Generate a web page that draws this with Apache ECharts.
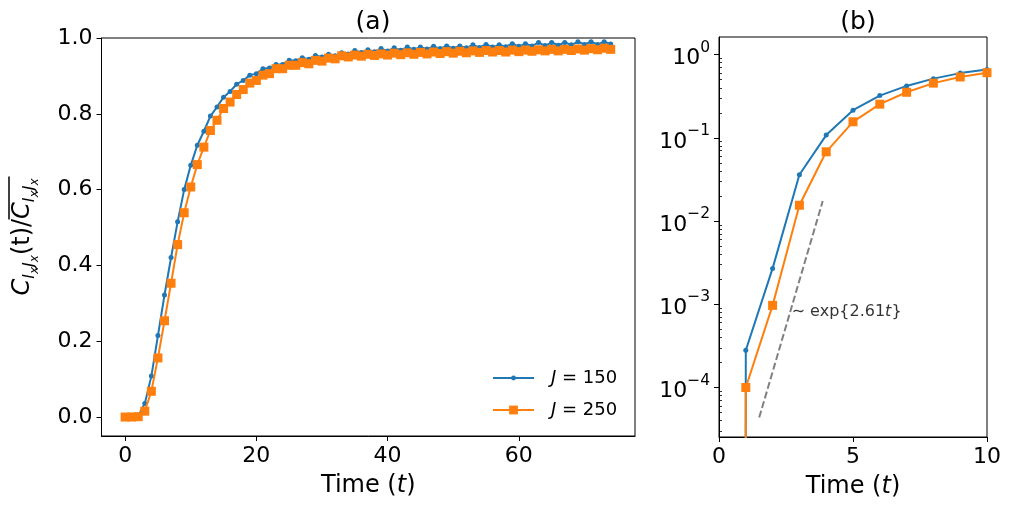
<!DOCTYPE html>
<html>
<head>
<meta charset="utf-8">
<script src="https://cdn.jsdelivr.net/npm/echarts@6/dist/echarts.min.js"></script>
<style>html,body{margin:0;padding:0;background:#fff}#c{width:1011px;height:511px}</style>
</head>
<body>
<div id="c"></div>
<script>
// ---- data ----
const timeT = [0,1,2,3,4,5,6,7,8,9,10,11,12,13,14,15,16,17,18,19,20,21,22,23,24,25,26,27,28,29,30,31,32,33,34,35,36,37,38,39,40,41,42,43,44,45,46,47,48,49,50,51,52,53,54,55,56,57,58,59,60,61,62,63,64,65,66,67,68,69,70,71,72,73,74];
const j150 = [0,0.00028,0.0027,0.036,0.108,0.215,0.322,0.421,0.515,0.600,0.664,0.717,0.754,0.794,0.818,0.844,0.859,0.878,0.888,0.902,0.906,0.919,0.921,0.930,0.930,0.941,0.940,0.948,0.944,0.954,0.950,0.957,0.953,0.961,0.958,0.967,0.962,0.969,0.964,0.972,0.966,0.974,0.968,0.976,0.970,0.976,0.971,0.978,0.972,0.979,0.973,0.979,0.974,0.982,0.975,0.983,0.976,0.982,0.977,0.985,0.978,0.985,0.979,0.988,0.980,0.988,0.981,0.988,0.982,0.990,0.983,0.990,0.983,0.990,0.984];
const j250 = [0,0.0001,0.00097,0.0155,0.068,0.156,0.254,0.353,0.455,0.539,0.607,0.666,0.712,0.756,0.783,0.814,0.831,0.851,0.864,0.881,0.888,0.902,0.906,0.919,0.919,0.928,0.928,0.935,0.932,0.941,0.939,0.947,0.945,0.953,0.950,0.955,0.952,0.957,0.954,0.958,0.955,0.960,0.956,0.961,0.957,0.962,0.958,0.963,0.959,0.964,0.960,0.965,0.961,0.966,0.962,0.967,0.963,0.967,0.963,0.968,0.964,0.968,0.965,0.969,0.966,0.970,0.966,0.970,0.967,0.971,0.968,0.972,0.969,0.973,0.970];
const seriesNames = ['J = 150', 'J = 250'];
const xTicksA = [0, 20, 40, 60];
const yTicksA = [0, 0.2, 0.4, 0.6, 0.8, 1.0];
const xTicksB = [0, 5, 10];
const yTicksB = [1e-4, 1e-3, 1e-2, 1e-1, 1];
const yMinorB = [3e-5,4e-5,5e-5,6e-5,7e-5,8e-5,9e-5,2e-4,3e-4,4e-4,5e-4,6e-4,7e-4,8e-4,9e-4,2e-3,3e-3,4e-3,5e-3,6e-3,7e-3,8e-3,9e-3,2e-2,3e-2,4e-2,5e-2,6e-2,7e-2,8e-2,9e-2,0.2,0.3,0.4,0.5,0.6,0.7,0.8,0.9];
const guideT = [1.5, 3.87];
const guideY = [4.35e-5, 0.0174];
const annotT = 2.71;
const annotY = 8.1e-4;

// ---- chart ----
const FONT = 'DejaVu Sans';
const BLUE = '#1f77b4', ORANGE = '#ff7f0e';
const pairs = (xs, ys) => xs.map((x, i) => [x, ys[i]]);
const logSafe = ys => ys.map(v => (v === 0 ? 1e-300 : v));
const expLabel = v => {
  const e = Math.round(Math.log10(v));
  return '{b|10}{s|' + (e < 0 ? '\u2212' + (-e) : String(e)) + '}';
};

const tick = {show: true, length: 5, lineStyle: {color: '#000', width: 1}};
const line = {show: true, onZero: false, lineStyle: {color: '#000', width: 1}};
const lbl = {color: '#000', fontSize: 22, fontFamily: FONT, margin: 9};
const nameRich = {rich: {n: {fontSize: 24, fontFamily: FONT, color: '#000'}, i: {fontSize: 24, fontFamily: FONT, fontStyle: 'italic', color: '#000'}}};
const titleStyle = {fontSize: 25, fontWeight: 'normal', color: '#000', fontFamily: FONT};

const yName = '{g|}{ob|}\n' +
  '{c|C}{s1|I}{s2|x}{s1|J}{s2|x}{n|(t)/}{c|C}{s1|I}{s2|x}{s1|J}{s2|x}';

const chart = echarts.init(document.getElementById('c'), null, {renderer: 'canvas'});
chart.setOption({
  animation: false,
  backgroundColor: '#fff',
  title: [
    {text: '(a)', left: 368, top: 5, textAlign: 'center', textStyle: titleStyle},
    {text: '(b)', left: 853, top: 5, textAlign: 'center', textStyle: titleStyle}
  ],
  grid: [
    {left: 101, top: 38, width: 534, height: 398, show: true, borderColor: '#000', borderWidth: 1, backgroundColor: 'transparent'},
    {left: 719, top: 37, width: 268, height: 400, show: true, borderColor: '#000', borderWidth: 1, backgroundColor: 'transparent'}
  ],
  legend: [
    {data: [seriesNames[0]], orient: 'vertical', left: 487, top: 363, itemWidth: 41, itemHeight: 6,
     formatter: n => n.replace('J', '{i|J}'),
     textStyle: {fontSize: 18, lineHeight: 20, color: '#000', fontFamily: FONT, padding: [0,0,0,12],
       rich: {i: {fontStyle: 'italic', fontSize: 18, fontFamily: FONT}}}},
    {data: [seriesNames[1]], orient: 'vertical', left: 487, top: 395, itemWidth: 41, itemHeight: 11,
     formatter: n => n.replace('J', '{i|J}'),
     textStyle: {fontSize: 18, lineHeight: 20, color: '#000', fontFamily: FONT, padding: [0,0,0,12],
       rich: {i: {fontStyle: 'italic', fontSize: 18, fontFamily: FONT}}}}
  ],
  xAxis: [
    {type: 'value', gridIndex: 0, min: -3.6, max: 77.7, axisLine: line, axisTick: Object.assign({customValues: xTicksA}, tick),
     axisLabel: Object.assign({customValues: xTicksA}, lbl), splitLine: {show: false},
     name: '{n|Time (}{i|t}{n|)}', nameLocation: 'middle', nameGap: 38, nameTextStyle: nameRich},
    {type: 'value', gridIndex: 1, min: 0, max: 10, interval: 5, axisLine: line, axisTick: tick,
     axisLabel: lbl, splitLine: {show: false},
     name: '{n|Time (}{i|t}{n|)}', nameLocation: 'middle', nameGap: 38, nameTextStyle: nameRich}
  ],
  yAxis: [
    {type: 'value', gridIndex: 0, min: -0.05, max: 1.0, axisLine: line, axisTick: Object.assign({customValues: yTicksA}, tick),
     axisLabel: Object.assign({customValues: yTicksA, formatter: v => v.toFixed(1)}, lbl), splitLine: {show: false},
     name: yName, nameLocation: 'middle', nameGap: 55,
     nameTextStyle: {rich: {
       g: {width: 78, height: 2, lineHeight: 3, fontSize: 2},
       ob: {width: 43, height: 1.5, lineHeight: 3, fontSize: 2, backgroundColor: '#000'},
       c: {fontSize: 24, fontFamily: FONT, fontStyle: 'italic', color: '#000', verticalAlign: 'top', padding: [0,0,0,0], lineHeight: 36},
       s1: {fontSize: 16, fontFamily: FONT, fontStyle: 'italic', color: '#000', verticalAlign: 'top', padding: [11,0,0,0], lineHeight: 36},
       s2: {fontSize: 12, fontFamily: FONT, fontStyle: 'italic', color: '#000', verticalAlign: 'top', padding: [18,0,0,0], lineHeight: 36},
       n: {fontSize: 24, fontFamily: FONT, color: '#000', verticalAlign: 'top', padding: [0,0,0,0], lineHeight: 36}
     }}},
    {type: 'log', gridIndex: 1, min: 2.54e-5, max: 1.63, axisLine: line,
     axisTick: Object.assign({customValues: yTicksB}, tick),
     axisLabel: Object.assign({customValues: yTicksB, formatter: expLabel,
       rich: {
         b: {fontSize: 22, fontFamily: FONT, color: '#000', verticalAlign: 'top', padding: [8,0,0,0], lineHeight: 30},
         s: {fontSize: 15.5, fontFamily: FONT, color: '#000', verticalAlign: 'top', padding: [0,0,0,0], lineHeight: 30}
       }}, lbl),
     splitLine: {show: false}},
    {type: 'log', gridIndex: 1, min: 2.54e-5, max: 1.63, axisLine: {show: false},
     axisTick: {show: true, length: 3, customValues: yMinorB, lineStyle: {color: '#000', width: 0.8}},
     axisLabel: {show: false}, splitLine: {show: false}}
  ],
  series: [
    {name: seriesNames[0], type: 'line', xAxisIndex: 0, yAxisIndex: 0, data: pairs(timeT, j150),
     symbol: 'circle', symbolSize: 5, showAllSymbol: true, color: BLUE, lineStyle: {width: 2, color: BLUE}, itemStyle: {color: BLUE}, z: 2},
    {name: seriesNames[1], type: 'line', xAxisIndex: 0, yAxisIndex: 0, data: pairs(timeT, j250),
     symbol: 'rect', symbolSize: 9, showAllSymbol: true, color: ORANGE, lineStyle: {width: 2, color: ORANGE}, itemStyle: {color: ORANGE}, z: 3},
    {name: seriesNames[0], type: 'line', xAxisIndex: 1, yAxisIndex: 1, data: pairs(timeT, logSafe(j150)),
     symbol: 'circle', symbolSize: 5, showAllSymbol: true, color: BLUE, lineStyle: {width: 2, color: BLUE}, itemStyle: {color: BLUE}, z: 2, clip: true},
    {name: seriesNames[1], type: 'line', xAxisIndex: 1, yAxisIndex: 1, data: pairs(timeT, logSafe(j250)),
     symbol: 'rect', symbolSize: 9, showAllSymbol: true, color: ORANGE, lineStyle: {width: 2, color: ORANGE}, itemStyle: {color: ORANGE}, z: 3, clip: true},
    {name: 'guide', type: 'line', xAxisIndex: 1, yAxisIndex: 1, data: pairs(guideT, guideY), symbol: 'none',
     lineStyle: {color: '#808080', width: 2, type: [7, 3]}, z: 1},
    {name: 'annot', type: 'scatter', xAxisIndex: 1, yAxisIndex: 1, data: [[annotT, annotY]], symbolSize: 0,
     label: {show: true, position: 'right', distance: 0, formatter: '\u223C exp{2.61{i|t}}', color: '#000', fontSize: 16, fontFamily: FONT,
       rich: {i: {fontStyle: 'italic', fontSize: 16, fontFamily: FONT, color: '#000'}}}, z: 4}
  ]
});
</script>
</body>
</html>
